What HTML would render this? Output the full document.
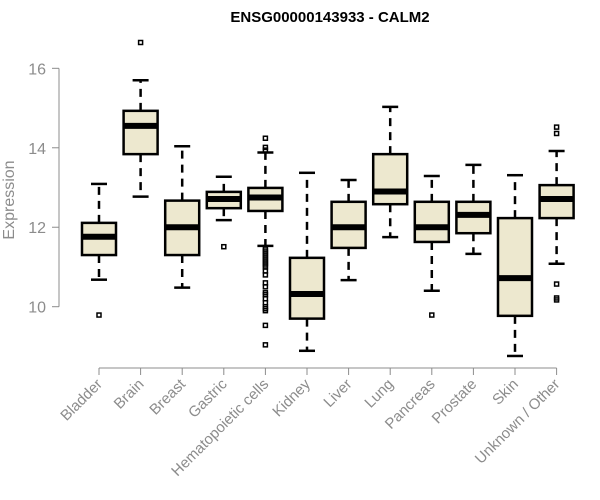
<!DOCTYPE html>
<html><head><meta charset="utf-8"><style>body{margin:0;background:#fff}svg{display:block}</style></head>
<body>
<svg id="c" width="600" height="500" font-family="Liberation Sans, sans-serif">
<text x="330" y="22" text-anchor="middle" font-weight="bold" font-size="15">ENSG00000143933 - CALM2</text>
<text transform="translate(14,200) rotate(-90)" text-anchor="middle" font-size="16" fill="#8c8c8c">Expression</text>
<g id="g"></g>
</svg>
<script>
const categories=["Bladder","Brain","Breast","Gastric","Hematopoietic cells","Kidney","Liver","Lung","Pancreas","Prostate","Skin","Unknown / Other"];
const whiskLo=[10.68,12.77,10.48,12.18,11.53,8.89,10.67,11.75,10.40,11.33,8.76,11.08];
const q1=[11.3,13.84,11.3,12.48,12.41,9.70,11.48,12.58,11.63,11.85,9.77,12.23];
const med=[11.76,14.55,12.0,12.71,12.75,10.32,12.0,12.9,12.0,12.31,10.72,12.71];
const q3=[12.11,14.93,12.67,12.89,12.99,11.23,12.64,13.84,12.64,12.64,12.23,13.06];
const whiskHi=[13.09,15.7,14.04,13.27,13.88,13.37,13.19,15.03,13.29,13.57,13.31,13.92];
const outliers=[[9.79],[16.65],[],[11.51],[14.24,14.01,13.94,11.45,11.4,11.35,11.3,11.25,11.2,11.15,11.1,11.05,11.0,10.9,10.8,10.6,10.5,10.35,10.3,10.2,10.1,10.0,9.95,9.9,9.53,9.04],[],[],[],[9.79],[],[],[14.52,14.36,10.57,10.22,10.17]];
const yTicks=[10,12,14,16];
const ns="http://www.w3.org/2000/svg",g=document.getElementById('g');
const y=v=>306.7-(v-10)*39.73;
const x=i=>99+i*41.6;
function mk(t,a){const e=document.createElementNS(ns,t);for(const k in a)e.setAttribute(k,a[k]);g.appendChild(e);return e;}
let e=mk('line',{x1:59,x2:59,y1:y(yTicks[0]),y2:y(yTicks[yTicks.length-1]),stroke:'#8c8c8c'});

yTicks.forEach(t=>{let l=mk('line',{x1:52,x2:59,y1:y(t),y2:y(t),stroke:'#8c8c8c'});

let tx=mk('text',{x:46,y:y(t)+6,'text-anchor':'end','font-size':16,fill:'#8c8c8c'});tx.textContent=t;
});
e=mk('line',{x1:x(0),x2:x(categories.length-1),y1:368,y2:368,stroke:'#8c8c8c'});

categories.forEach((c,i)=>{const cx=x(i),w=17;
let t=mk('line',{x1:cx,x2:cx,y1:368,y2:375,stroke:'#8c8c8c'});

let lb=mk('text',{transform:`translate(${cx+4},${385}) rotate(-45)`,'text-anchor':'end','font-size':15,fill:'#8c8c8c'});lb.textContent=c;

let bg=document.createElementNS(ns,'g');g.appendChild(bg);


const add=(tg,a)=>{const el=document.createElementNS(ns,tg);for(const k in a)el.setAttribute(k,a[k]);bg.appendChild(el);};
add('line',{x1:cx,x2:cx,y1:y(q3[i]),y2:y(whiskHi[i]),stroke:'#000','stroke-width':2.5,'stroke-dasharray':'8,6'});
add('line',{x1:cx,x2:cx,y1:y(q1[i]),y2:y(whiskLo[i]),stroke:'#000','stroke-width':2.5,'stroke-dasharray':'8,6'});
add('line',{x1:cx-8,x2:cx+8,y1:y(whiskHi[i]),y2:y(whiskHi[i]),stroke:'#000','stroke-width':2.5});
add('line',{x1:cx-8,x2:cx+8,y1:y(whiskLo[i]),y2:y(whiskLo[i]),stroke:'#000','stroke-width':2.5});
add('rect',{x:cx-w,y:y(q3[i]),width:2*w,height:y(q1[i])-y(q3[i]),fill:'#ede8cf',stroke:'#000','stroke-width':2.5});
add('line',{x1:cx-w,x2:cx+w,y1:y(med[i]),y2:y(med[i]),stroke:'#000','stroke-width':6});
outliers[i].forEach(o=>add('rect',{x:cx-2,y:y(o)-2,width:4,height:4,fill:'none',stroke:'#000','stroke-width':1.5}));
});
</script>
</body></html>
